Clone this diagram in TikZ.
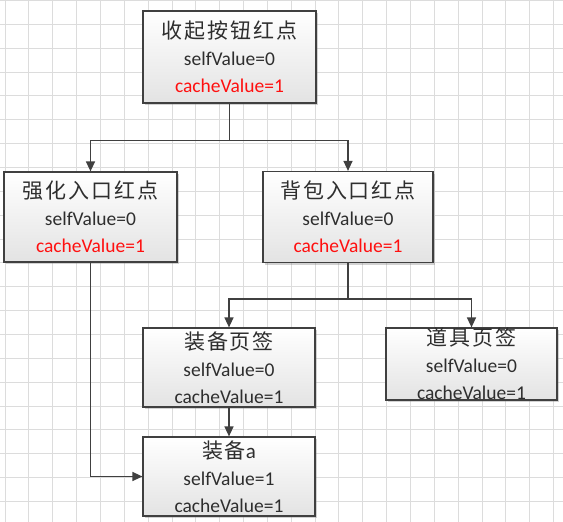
\documentclass[tikz,border=0pt]{standalone}
\usepackage{fontspec}
\setmainfont{Carlito}
\newfontfamily\cjk[LetterSpace=9]{Noto Sans CJK SC}
\usepackage{tikz}
\usetikzlibrary{arrows.meta,shadows}
\definecolor{linegray}{HTML}{404040}
\definecolor{textgray}{HTML}{2E2E2E}
\definecolor{gridgray}{HTML}{DCDCDC}
\definecolor{valred}{HTML}{FF1010}
\tikzset{box/.style={rectangle,draw=linegray,line width=1.2pt,inner sep=0pt,align=center,
    top color=white,bottom color=black!11,text=textgray,font=\fontsize{19.5}{27}\selectfont,
    drop shadow={shadow xshift=2pt,shadow yshift=-2pt,opacity=0.35}}}
\tikzset{gridline/.style={draw=gridgray,line width=0.9pt}}
\newcommand{\boxtitle}[1]{{\fontsize{21}{27}\selectfont #1}}

\begin{document}
\begin{tikzpicture}[x=1pt, y=-1pt, >={Triangle[length=10pt,width=9pt]}, line width=1.4pt]
        \useasboundingbox (0,0) rectangle (563,522);
        \fill[white] (0,0) rectangle (563,522);
        % grid
        \foreach \gx in {0,...,23}
            \draw[gridline] ({5+23.85*\gx},0) -- ({5+23.85*\gx},522);
        \foreach \gy in {0,...,21}
            \draw[gridline] (0,{0.5+23.85*\gy}) -- (563,{0.5+23.85*\gy});
        % boxes
        \node[box,minimum width=173pt,minimum height=92pt] (fold) at (229.5,57)
            {\boxtitle{\cjk 收起按钮红点}\\ selfValue=0\\ \textcolor{valred}{cacheValue=1}};
        \node[box,minimum width=173pt,minimum height=90pt] (boost) at (90.5,217)
            {\boxtitle{\cjk 强化入口红点}\\ selfValue=0\\ \textcolor{valred}{cacheValue=1}};
        \node[box,minimum width=170pt,minimum height=91pt] (bag) at (348,217)
            {\boxtitle{\cjk 背包入口红点}\\ selfValue=0\\ \textcolor{valred}{cacheValue=1}};
        \node[box,minimum width=172pt,minimum height=79pt] (equiptab) at (229,367.5)
            {\boxtitle{\cjk 装备页签}\\ selfValue=0\\ cacheValue=1};
        \node[box,minimum width=171pt,minimum height=72pt] (itemtab) at (471.5,364)
            {\boxtitle{\cjk 道具页签}\\ selfValue=0\\ cacheValue=1};
        \node[box,minimum width=172pt,minimum height=79pt] (equipa) at (229,476.5)
            {\boxtitle{{\cjk 装备}a}\\ selfValue=1\\ cacheValue=1};
        % links
        \draw[->,linegray] (fold.south) -- ++(0,37) -| (boost.north);
        \draw[->,linegray] (fold.south) -- ++(0,37) -| (bag.north);
        \draw[->,linegray] (bag.south) -- ++(0,36) -| (equiptab.north);
        \draw[->,linegray] (bag.south) -- ++(0,36) -| (itemtab.north);
        \draw[->,linegray] (equiptab.south) -- (equipa.north);
        \draw[->,linegray] (boost.south) |- (equipa.west);
\end{tikzpicture}
\end{document}
